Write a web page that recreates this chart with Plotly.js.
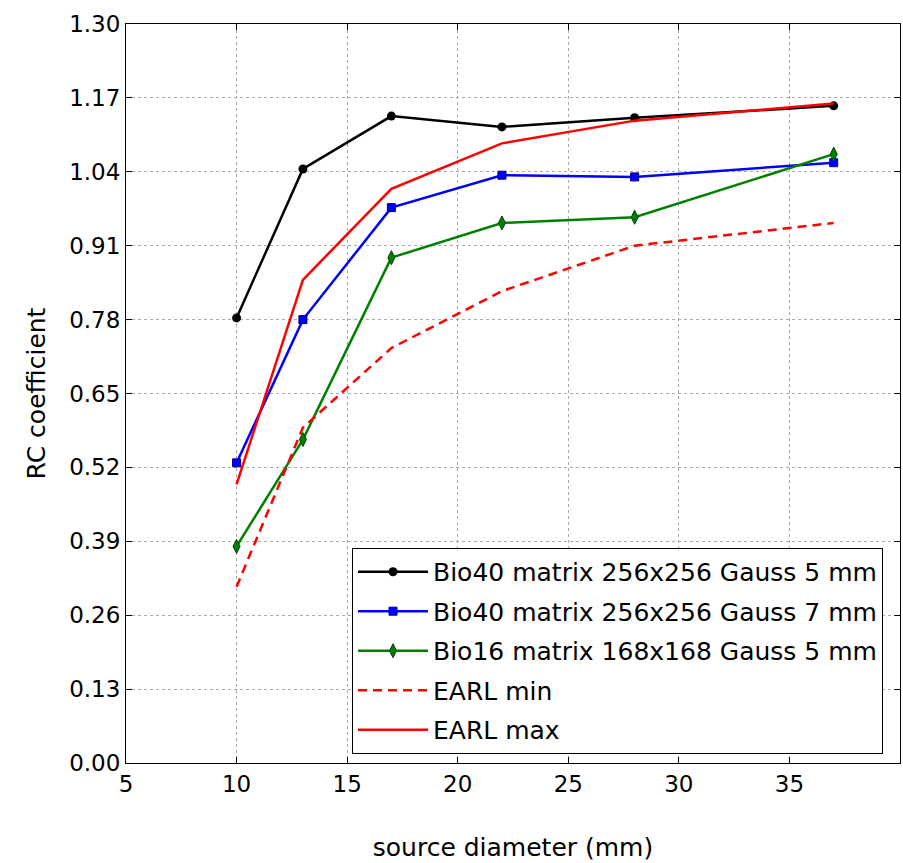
<!DOCTYPE html>
<html>
<head>
<meta charset="utf-8">
<script src="https://cdn.plot.ly/plotly-3.0.1.min.js"></script>
<style>html,body{margin:0;padding:0;background:#fff;}#chart{width:903px;height:863px;}</style>
</head>
<body>
<div id="chart"></div>
<script>
const diameters = [10, 13, 17, 22, 28, 37];
const bio40g5 = [0.783, 1.045, 1.138, 1.119, 1.135, 1.156];
const bio40g7 = [0.528, 0.780, 0.977, 1.034, 1.031, 1.056];
const bio16g5 = [0.381, 0.569, 0.889, 0.950, 0.960, 1.071];
const earlMin = [0.31, 0.59, 0.73, 0.83, 0.91, 0.95];
const earlMax = [0.49, 0.85, 1.01, 1.09, 1.13, 1.16];
const yTicks = [0, 0.13, 0.26, 0.39, 0.52, 0.65, 0.78, 0.91, 1.04, 1.17, 1.30];
const xTicks = [5, 10, 15, 20, 25, 30, 35, 40];

const font = 'DejaVu Sans, sans-serif';

const traces = [
  {x: diameters, y: bio40g5, name: 'Bio40 matrix 256x256 Gauss 5 mm', mode: 'lines+markers',
   line: {color: 'black', width: 2.5}, marker: {symbol: 'circle', size: 9, color: 'black'}, legendgroup: 'a'},
  {x: diameters, y: bio40g7, name: 'Bio40 matrix 256x256 Gauss 7 mm', mode: 'lines+markers',
   line: {color: 'blue', width: 2.5}, marker: {symbol: 'square', size: 8, color: 'blue', line: {color: '#000080', width: 1}}, legendgroup: 'b'},
  {x: diameters, y: bio16g5, name: 'Bio16 matrix 168x168 Gauss 5 mm', mode: 'lines+markers',
   line: {color: 'green', width: 2.5}, marker: {symbol: 'diamond-tall', size: 10, color: 'green', line: {color: '#004000', width: 1}}, legendgroup: 'c'},
  {x: diameters, y: earlMin, name: 'EARL min', mode: 'lines',
   line: {color: 'red', width: 2.5, dash: '9px,6px'}, legendgroup: 'd'},
  {x: diameters, y: earlMax, name: 'EARL max', mode: 'lines',
   line: {color: 'red', width: 2.5}, legendgroup: 'e'}
];

const layout = {
  width: 903, height: 863,
  margin: {l: 126, r: 3, t: 24, b: 100},
  paper_bgcolor: 'white', plot_bgcolor: 'white',
  font: {family: font, size: 22, color: 'black'},
  showlegend: true,
  legend: {x: 0.292, y: 0.291, xanchor: 'left', yanchor: 'top',
    bordercolor: 'black', borderwidth: 1, bgcolor: 'white',
    font: {family: font, size: 25, color: 'black'},
    itemwidth: 70,
    traceorder: 'grouped', tracegroupgap: 4},
  xaxis: {range: [5, 40], tickvals: xTicks, ticktext: xTicks.map(String),
    showgrid: true, gridcolor: '#aaa', griddash: 'dot', gridwidth: 1,
    showline: true, linecolor: 'black', linewidth: 1, mirror: 'ticks',
    ticks: 'inside', ticklen: 6, tickcolor: 'black',
    zeroline: false, tickfont: {family: font, size: 23},
    title: {text: 'source diameter (mm)', font: {family: font, size: 25}, standoff: 42}},
  yaxis: {range: [0, 1.3], tickvals: yTicks, ticktext: yTicks.map(v => v.toFixed(2)),
    showgrid: true, gridcolor: '#aaa', griddash: 'dot', gridwidth: 1,
    showline: true, linecolor: 'black', linewidth: 1, mirror: 'ticks',
    ticks: 'inside', ticklen: 6, tickcolor: 'black',
    zeroline: false, tickfont: {family: font, size: 23},
    title: {text: 'RC coefficient', font: {family: font, size: 25}, standoff: 16}}
};

Plotly.newPlot('chart', traces, layout, {displayModeBar: false, staticPlot: true});
</script>
</body>
</html>
